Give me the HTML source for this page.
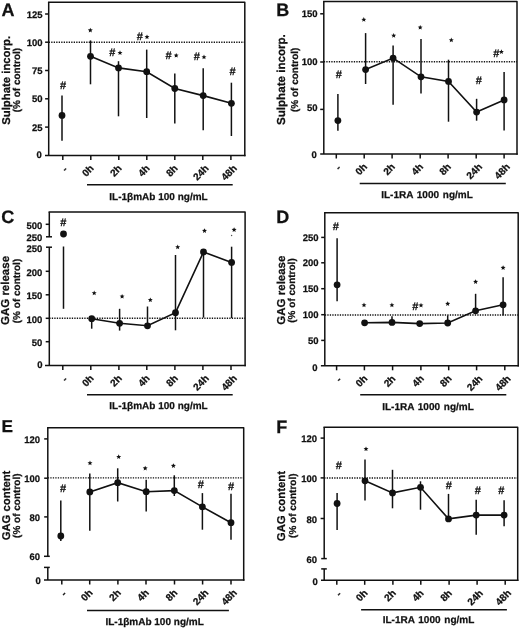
<!DOCTYPE html>
<html><head><meta charset="utf-8"><style>
html,body{margin:0;padding:0;background:#fff;}
svg{display:block;will-change:transform;}
text{font-family:"Liberation Sans",sans-serif;fill:#111;text-rendering:geometricPrecision;}
</style></head><body>
<svg width="520" height="629" viewBox="0 0 520 629" stroke="#111" fill="#111">
<g stroke="none">
</g>
<g fill="none" stroke="#111">
</g>
<path d="M48.70,2.20 L244.80,2.20 L244.80,155.40" fill="none" stroke-width="1.5" stroke-linejoin="round" stroke-linecap="square"/>
<line x1="48.70" y1="2.20" x2="48.70" y2="155.40" stroke-width="1.5" />
<line x1="45.00" y1="155.40" x2="245.55" y2="155.40" stroke-width="1.5" />
<line x1="45.10" y1="14.00" x2="48.70" y2="14.00" stroke-width="1.5" />
<line x1="45.10" y1="42.20" x2="48.70" y2="42.20" stroke-width="1.5" />
<line x1="45.10" y1="70.50" x2="48.70" y2="70.50" stroke-width="1.5" />
<line x1="45.10" y1="98.80" x2="48.70" y2="98.80" stroke-width="1.5" />
<line x1="45.10" y1="127.10" x2="48.70" y2="127.10" stroke-width="1.5" />
<text stroke="#111" stroke-width="0.25" x="42.60" y="17.50" font-size="9.5" text-anchor="end" font-weight="bold" >125</text>
<text stroke="#111" stroke-width="0.25" x="42.60" y="45.70" font-size="9.5" text-anchor="end" font-weight="bold" >100</text>
<text stroke="#111" stroke-width="0.25" x="42.60" y="74.00" font-size="9.5" text-anchor="end" font-weight="bold" >75</text>
<text stroke="#111" stroke-width="0.25" x="42.60" y="102.30" font-size="9.5" text-anchor="end" font-weight="bold" >50</text>
<text stroke="#111" stroke-width="0.25" x="42.60" y="130.60" font-size="9.5" text-anchor="end" font-weight="bold" >25</text>
<text stroke="#111" stroke-width="0.25" x="41.80" y="158.20" font-size="9.5" text-anchor="end" font-weight="bold" >0</text>
<line x1="48.70" y1="42.20" x2="244.80" y2="42.20" stroke-width="1.4" stroke-dasharray="1.3 1.2"/>
<line x1="62.80" y1="155.40" x2="62.80" y2="159.90" stroke-width="1.5" />
<text stroke="#111" stroke-width="0.25" x="68.20" y="170.10" font-size="10" text-anchor="end" font-weight="bold" transform="rotate(-45 68.20 170.10)">-</text>
<line x1="90.80" y1="155.40" x2="90.80" y2="159.90" stroke-width="1.5" />
<text stroke="#111" stroke-width="0.25" x="94.40" y="168.90" font-size="10" text-anchor="end" font-weight="bold" transform="rotate(-45 94.40 168.90)">0h</text>
<line x1="118.80" y1="155.40" x2="118.80" y2="159.90" stroke-width="1.5" />
<text stroke="#111" stroke-width="0.25" x="122.40" y="168.90" font-size="10" text-anchor="end" font-weight="bold" transform="rotate(-45 122.40 168.90)">2h</text>
<line x1="146.80" y1="155.40" x2="146.80" y2="159.90" stroke-width="1.5" />
<text stroke="#111" stroke-width="0.25" x="150.40" y="168.90" font-size="10" text-anchor="end" font-weight="bold" transform="rotate(-45 150.40 168.90)">4h</text>
<line x1="174.80" y1="155.40" x2="174.80" y2="159.90" stroke-width="1.5" />
<text stroke="#111" stroke-width="0.25" x="178.40" y="168.90" font-size="10" text-anchor="end" font-weight="bold" transform="rotate(-45 178.40 168.90)">8h</text>
<line x1="202.80" y1="155.40" x2="202.80" y2="159.90" stroke-width="1.5" />
<text stroke="#111" stroke-width="0.25" x="209.40" y="168.90" font-size="10" text-anchor="end" font-weight="bold" transform="rotate(-45 209.40 168.90)">24h</text>
<line x1="230.90" y1="155.40" x2="230.90" y2="159.90" stroke-width="1.5" />
<text stroke="#111" stroke-width="0.25" x="237.50" y="168.90" font-size="10" text-anchor="end" font-weight="bold" transform="rotate(-45 237.50 168.90)">48h</text>
<line x1="62.00" y1="95.60" x2="62.00" y2="140.80" stroke-width="1.5" />
<line x1="90.50" y1="40.40" x2="90.50" y2="84.30" stroke-width="1.5" />
<line x1="118.50" y1="61.20" x2="118.50" y2="116.30" stroke-width="1.5" />
<line x1="146.70" y1="49.60" x2="146.70" y2="118.00" stroke-width="1.5" />
<line x1="174.80" y1="73.50" x2="174.80" y2="123.50" stroke-width="1.5" />
<line x1="203.20" y1="68.30" x2="203.20" y2="130.20" stroke-width="1.5" />
<line x1="231.40" y1="82.70" x2="231.40" y2="136.00" stroke-width="1.5" />
<path d="M90.50,56.30 L118.50,67.90 L146.70,71.70 L174.80,88.50 L203.20,95.60 L231.40,103.30" fill="none" stroke-width="1.6"/>
<circle cx="62.00" cy="115.40" r="3.4" fill="#111" stroke="none"/>
<circle cx="90.50" cy="56.30" r="3.4" fill="#111" stroke="none"/>
<circle cx="118.50" cy="67.90" r="3.4" fill="#111" stroke="none"/>
<circle cx="146.70" cy="71.70" r="3.4" fill="#111" stroke="none"/>
<circle cx="174.80" cy="88.50" r="3.4" fill="#111" stroke="none"/>
<circle cx="203.20" cy="95.60" r="3.4" fill="#111" stroke="none"/>
<circle cx="231.40" cy="103.30" r="3.4" fill="#111" stroke="none"/>
<text stroke="#111" stroke-width="0.25" x="63.00" y="89.23" font-size="11" text-anchor="middle" font-weight="bold">#</text>
<polygon points="90.30,27.70 90.99,29.35 92.77,29.50 91.41,30.66 91.83,32.40 90.30,31.47 88.77,32.40 89.19,30.66 87.83,29.50 89.61,29.35" fill="#111" stroke="none"/>
<text stroke="#111" stroke-width="0.25" x="112.40" y="56.03" font-size="11" text-anchor="middle" font-weight="bold">#</text>
<polygon points="120.00,50.30 120.69,51.95 122.47,52.10 121.11,53.26 121.53,55.00 120.00,54.07 118.47,55.00 118.89,53.26 117.53,52.10 119.31,51.95" fill="#111" stroke="none"/>
<text stroke="#111" stroke-width="0.25" x="139.90" y="40.13" font-size="11" text-anchor="middle" font-weight="bold">#</text>
<polygon points="147.00,34.40 147.69,36.05 149.47,36.20 148.11,37.36 148.53,39.10 147.00,38.17 145.47,39.10 145.89,37.36 144.53,36.20 146.31,36.05" fill="#111" stroke="none"/>
<text stroke="#111" stroke-width="0.25" x="168.50" y="58.63" font-size="11" text-anchor="middle" font-weight="bold">#</text>
<polygon points="176.20,52.90 176.89,54.55 178.67,54.70 177.31,55.86 177.73,57.60 176.20,56.67 174.67,57.60 175.09,55.86 173.73,54.70 175.51,54.55" fill="#111" stroke="none"/>
<text stroke="#111" stroke-width="0.25" x="196.90" y="60.33" font-size="11" text-anchor="middle" font-weight="bold">#</text>
<polygon points="204.00,54.60 204.69,56.25 206.47,56.40 205.11,57.56 205.53,59.30 204.00,58.37 202.47,59.30 202.89,57.56 201.53,56.40 203.31,56.25" fill="#111" stroke="none"/>
<text stroke="#111" stroke-width="0.25" x="232.50" y="74.83" font-size="11" text-anchor="middle" font-weight="bold">#</text>
<line x1="87.00" y1="184.80" x2="232.70" y2="184.80" stroke-width="1.5" />
<text stroke="#111" stroke-width="0.25" x="158.50" y="199.50" font-size="10" text-anchor="middle" font-weight="bold" >IL-1βmAb 100 ng/mL</text>
<text stroke="#111" stroke-width="0.25" x="9.60" y="80.40" font-size="11.35" text-anchor="middle" font-weight="bold" transform="rotate(-90 9.60 80.40)">Sulphate incorp.</text>
<text stroke="#111" stroke-width="0.25" x="20.00" y="80.10" font-size="10" text-anchor="middle" font-weight="bold" transform="rotate(-90 20.00 80.10)">(% of control)</text>
<text stroke="#111" stroke-width="0.25" x="1.50" y="15.60" font-size="18" text-anchor="start" font-weight="bold" >A</text>
<path d="M323.80,1.50 L517.00,1.50 L517.00,154.00" fill="none" stroke-width="1.5" stroke-linejoin="round" stroke-linecap="square"/>
<line x1="323.80" y1="1.50" x2="323.80" y2="154.00" stroke-width="1.5" />
<line x1="320.20" y1="154.00" x2="517.75" y2="154.00" stroke-width="1.5" />
<line x1="320.20" y1="13.80" x2="323.80" y2="13.80" stroke-width="1.5" />
<line x1="320.20" y1="62.00" x2="323.80" y2="62.00" stroke-width="1.5" />
<line x1="320.20" y1="109.40" x2="323.80" y2="109.40" stroke-width="1.5" />
<text stroke="#111" stroke-width="0.25" x="317.60" y="16.90" font-size="9.5" text-anchor="end" font-weight="bold" >150</text>
<text stroke="#111" stroke-width="0.25" x="317.60" y="65.10" font-size="9.5" text-anchor="end" font-weight="bold" >100</text>
<text stroke="#111" stroke-width="0.25" x="317.60" y="110.60" font-size="9.5" text-anchor="end" font-weight="bold" >50</text>
<text stroke="#111" stroke-width="0.25" x="316.80" y="157.70" font-size="9.5" text-anchor="end" font-weight="bold" >0</text>
<line x1="323.80" y1="61.80" x2="517.00" y2="61.80" stroke-width="1.4" stroke-dasharray="1.3 1.2"/>
<line x1="336.30" y1="154.00" x2="336.30" y2="158.50" stroke-width="1.5" />
<text stroke="#111" stroke-width="0.25" x="341.70" y="168.70" font-size="10" text-anchor="end" font-weight="bold" transform="rotate(-45 341.70 168.70)">-</text>
<line x1="364.20" y1="154.00" x2="364.20" y2="158.50" stroke-width="1.5" />
<text stroke="#111" stroke-width="0.25" x="367.80" y="167.50" font-size="10" text-anchor="end" font-weight="bold" transform="rotate(-45 367.80 167.50)">0h</text>
<line x1="392.10" y1="154.00" x2="392.10" y2="158.50" stroke-width="1.5" />
<text stroke="#111" stroke-width="0.25" x="395.70" y="167.50" font-size="10" text-anchor="end" font-weight="bold" transform="rotate(-45 395.70 167.50)">2h</text>
<line x1="420.20" y1="154.00" x2="420.20" y2="158.50" stroke-width="1.5" />
<text stroke="#111" stroke-width="0.25" x="423.80" y="167.50" font-size="10" text-anchor="end" font-weight="bold" transform="rotate(-45 423.80 167.50)">4h</text>
<line x1="448.10" y1="154.00" x2="448.10" y2="158.50" stroke-width="1.5" />
<text stroke="#111" stroke-width="0.25" x="451.70" y="167.50" font-size="10" text-anchor="end" font-weight="bold" transform="rotate(-45 451.70 167.50)">8h</text>
<line x1="476.20" y1="154.00" x2="476.20" y2="158.50" stroke-width="1.5" />
<text stroke="#111" stroke-width="0.25" x="482.80" y="167.50" font-size="10" text-anchor="end" font-weight="bold" transform="rotate(-45 482.80 167.50)">24h</text>
<line x1="504.10" y1="154.00" x2="504.10" y2="158.50" stroke-width="1.5" />
<text stroke="#111" stroke-width="0.25" x="510.70" y="167.50" font-size="10" text-anchor="end" font-weight="bold" transform="rotate(-45 510.70 167.50)">48h</text>
<line x1="337.90" y1="94.00" x2="337.90" y2="130.70" stroke-width="1.5" />
<line x1="365.60" y1="33.10" x2="365.60" y2="84.00" stroke-width="1.5" />
<line x1="393.10" y1="45.40" x2="393.10" y2="104.80" stroke-width="1.5" />
<line x1="421.00" y1="39.10" x2="421.00" y2="93.50" stroke-width="1.5" />
<line x1="448.50" y1="59.70" x2="448.50" y2="121.70" stroke-width="1.5" />
<line x1="476.60" y1="98.80" x2="476.60" y2="120.70" stroke-width="1.5" />
<line x1="504.10" y1="71.90" x2="504.10" y2="130.60" stroke-width="1.5" />
<path d="M365.60,69.60 L393.10,58.10 L421.00,76.80 L448.50,81.40 L476.60,112.10 L504.10,99.90" fill="none" stroke-width="1.6"/>
<circle cx="337.90" cy="120.60" r="3.4" fill="#111" stroke="none"/>
<circle cx="365.60" cy="69.60" r="3.4" fill="#111" stroke="none"/>
<circle cx="393.10" cy="58.10" r="3.4" fill="#111" stroke="none"/>
<circle cx="421.00" cy="76.80" r="3.4" fill="#111" stroke="none"/>
<circle cx="448.50" cy="81.40" r="3.4" fill="#111" stroke="none"/>
<circle cx="476.60" cy="112.10" r="3.4" fill="#111" stroke="none"/>
<circle cx="504.10" cy="99.90" r="3.4" fill="#111" stroke="none"/>
<text stroke="#111" stroke-width="0.25" x="338.70" y="78.13" font-size="11" text-anchor="middle" font-weight="bold">#</text>
<polygon points="363.80,17.10 364.49,18.75 366.27,18.90 364.91,20.06 365.33,21.80 363.80,20.87 362.27,21.80 362.69,20.06 361.33,18.90 363.11,18.75" fill="#111" stroke="none"/>
<polygon points="393.70,33.00 394.39,34.65 396.17,34.80 394.81,35.96 395.23,37.70 393.70,36.77 392.17,37.70 392.59,35.96 391.23,34.80 393.01,34.65" fill="#111" stroke="none"/>
<polygon points="420.20,24.90 420.89,26.55 422.67,26.70 421.31,27.86 421.73,29.60 420.20,28.67 418.67,29.60 419.09,27.86 417.73,26.70 419.51,26.55" fill="#111" stroke="none"/>
<polygon points="451.30,37.60 451.99,39.25 453.77,39.40 452.41,40.56 452.83,42.30 451.30,41.37 449.77,42.30 450.19,40.56 448.83,39.40 450.61,39.25" fill="#111" stroke="none"/>
<text stroke="#111" stroke-width="0.25" x="478.80" y="84.03" font-size="11" text-anchor="middle" font-weight="bold">#</text>
<text stroke="#111" stroke-width="0.25" x="496.30" y="56.53" font-size="11" text-anchor="middle" font-weight="bold">#</text>
<polygon points="501.40,49.30 502.09,50.95 503.87,51.10 502.51,52.26 502.93,54.00 501.40,53.07 499.87,54.00 500.29,52.26 498.93,51.10 500.71,50.95" fill="#111" stroke="none"/>
<line x1="359.70" y1="183.50" x2="505.80" y2="183.50" stroke-width="1.5" />
<text stroke="#111" stroke-width="0.25" x="427.00" y="197.70" font-size="10" text-anchor="middle" font-weight="bold" word-spacing="1">IL-1RA 1000 ng/mL</text>
<text stroke="#111" stroke-width="0.25" x="284.90" y="79.60" font-size="11.6" text-anchor="middle" font-weight="bold" transform="rotate(-90 284.90 79.60)">Sulphate incorp.</text>
<text stroke="#111" stroke-width="0.25" x="298.00" y="79.80" font-size="10" text-anchor="middle" font-weight="bold" transform="rotate(-90 298.00 79.80)">(% of control)</text>
<text stroke="#111" stroke-width="0.25" x="276.20" y="16.00" font-size="18" text-anchor="start" font-weight="bold" >B</text>
<path d="M49.30,212.10 L245.10,212.10 L245.10,365.50" fill="none" stroke-width="1.5" stroke-linejoin="round" stroke-linecap="square"/>
<line x1="49.30" y1="212.10" x2="49.30" y2="236.80" stroke-width="1.5" />
<line x1="46.00" y1="236.80" x2="52.00" y2="236.80" stroke-width="1.5" />
<line x1="49.30" y1="247.20" x2="49.30" y2="365.50" stroke-width="1.5" />
<line x1="46.00" y1="247.20" x2="52.00" y2="247.20" stroke-width="1.5" />
<line x1="45.00" y1="365.50" x2="245.85" y2="365.50" stroke-width="1.5" />
<line x1="45.70" y1="224.30" x2="49.30" y2="224.30" stroke-width="1.5" />
<line x1="45.70" y1="271.30" x2="49.30" y2="271.30" stroke-width="1.5" />
<line x1="45.70" y1="294.80" x2="49.30" y2="294.80" stroke-width="1.5" />
<line x1="45.70" y1="318.30" x2="49.30" y2="318.30" stroke-width="1.5" />
<line x1="45.70" y1="341.70" x2="49.30" y2="341.70" stroke-width="1.5" />
<text stroke="#111" stroke-width="0.25" x="42.30" y="228.50" font-size="9.5" text-anchor="end" font-weight="bold" >500</text>
<text stroke="#111" stroke-width="0.25" x="42.30" y="241.40" font-size="9.5" text-anchor="end" font-weight="bold" >250</text>
<text stroke="#111" stroke-width="0.25" x="42.30" y="252.00" font-size="9.5" text-anchor="end" font-weight="bold" >250</text>
<text stroke="#111" stroke-width="0.25" x="42.30" y="275.50" font-size="9.5" text-anchor="end" font-weight="bold" >200</text>
<text stroke="#111" stroke-width="0.25" x="42.30" y="299.00" font-size="9.5" text-anchor="end" font-weight="bold" >150</text>
<text stroke="#111" stroke-width="0.25" x="42.30" y="322.50" font-size="9.5" text-anchor="end" font-weight="bold" >100</text>
<text stroke="#111" stroke-width="0.25" x="42.30" y="345.90" font-size="9.5" text-anchor="end" font-weight="bold" >50</text>
<text stroke="#111" stroke-width="0.25" x="42.60" y="368.30" font-size="9.5" text-anchor="end" font-weight="bold" >0</text>
<line x1="49.30" y1="318.30" x2="245.10" y2="318.30" stroke-width="1.4" stroke-dasharray="1.3 1.2"/>
<line x1="62.80" y1="365.50" x2="62.80" y2="370.00" stroke-width="1.5" />
<text stroke="#111" stroke-width="0.25" x="68.20" y="380.20" font-size="10" text-anchor="end" font-weight="bold" transform="rotate(-45 68.20 380.20)">-</text>
<line x1="90.80" y1="365.50" x2="90.80" y2="370.00" stroke-width="1.5" />
<text stroke="#111" stroke-width="0.25" x="94.40" y="379.00" font-size="10" text-anchor="end" font-weight="bold" transform="rotate(-45 94.40 379.00)">0h</text>
<line x1="118.90" y1="365.50" x2="118.90" y2="370.00" stroke-width="1.5" />
<text stroke="#111" stroke-width="0.25" x="122.50" y="379.00" font-size="10" text-anchor="end" font-weight="bold" transform="rotate(-45 122.50 379.00)">2h</text>
<line x1="146.80" y1="365.50" x2="146.80" y2="370.00" stroke-width="1.5" />
<text stroke="#111" stroke-width="0.25" x="150.40" y="379.00" font-size="10" text-anchor="end" font-weight="bold" transform="rotate(-45 150.40 379.00)">4h</text>
<line x1="174.90" y1="365.50" x2="174.90" y2="370.00" stroke-width="1.5" />
<text stroke="#111" stroke-width="0.25" x="178.50" y="379.00" font-size="10" text-anchor="end" font-weight="bold" transform="rotate(-45 178.50 379.00)">8h</text>
<line x1="202.90" y1="365.50" x2="202.90" y2="370.00" stroke-width="1.5" />
<text stroke="#111" stroke-width="0.25" x="209.50" y="379.00" font-size="10" text-anchor="end" font-weight="bold" transform="rotate(-45 209.50 379.00)">24h</text>
<line x1="231.00" y1="365.50" x2="231.00" y2="370.00" stroke-width="1.5" />
<text stroke="#111" stroke-width="0.25" x="237.60" y="379.00" font-size="10" text-anchor="end" font-weight="bold" transform="rotate(-45 237.60 379.00)">48h</text>
<line x1="91.70" y1="316.00" x2="91.70" y2="328.70" stroke-width="1.5" />
<line x1="119.60" y1="308.80" x2="119.60" y2="330.60" stroke-width="1.5" />
<line x1="147.50" y1="306.50" x2="147.50" y2="326.00" stroke-width="1.5" />
<line x1="175.50" y1="255.00" x2="175.50" y2="330.30" stroke-width="1.5" />
<line x1="203.50" y1="252.00" x2="203.50" y2="317.60" stroke-width="1.5" />
<line x1="231.60" y1="246.70" x2="231.60" y2="318.00" stroke-width="1.5" />
<path d="M91.70,318.70 L119.60,323.30 L147.50,325.80 L175.50,312.70 L203.50,252.00 L231.60,262.40" fill="none" stroke-width="1.6"/>
<circle cx="63.50" cy="234.00" r="3.4" fill="#111" stroke="none"/>
<circle cx="91.70" cy="318.70" r="3.4" fill="#111" stroke="none"/>
<circle cx="119.60" cy="323.30" r="3.4" fill="#111" stroke="none"/>
<circle cx="147.50" cy="325.80" r="3.4" fill="#111" stroke="none"/>
<circle cx="175.50" cy="312.70" r="3.4" fill="#111" stroke="none"/>
<circle cx="203.50" cy="252.00" r="3.4" fill="#111" stroke="none"/>
<circle cx="231.60" cy="262.40" r="3.4" fill="#111" stroke="none"/>
<text stroke="#111" stroke-width="0.25" x="63.30" y="225.63" font-size="11" text-anchor="middle" font-weight="bold">#</text>
<polygon points="94.20,290.50 94.89,292.15 96.67,292.30 95.31,293.46 95.73,295.20 94.20,294.27 92.67,295.20 93.09,293.46 91.73,292.30 93.51,292.15" fill="#111" stroke="none"/>
<polygon points="122.10,293.90 122.79,295.55 124.57,295.70 123.21,296.86 123.63,298.60 122.10,297.67 120.57,298.60 120.99,296.86 119.63,295.70 121.41,295.55" fill="#111" stroke="none"/>
<polygon points="150.30,297.40 150.99,299.05 152.77,299.20 151.41,300.36 151.83,302.10 150.30,301.17 148.77,302.10 149.19,300.36 147.83,299.20 149.61,299.05" fill="#111" stroke="none"/>
<polygon points="177.70,244.50 178.39,246.15 180.17,246.30 178.81,247.46 179.23,249.20 177.70,248.27 176.17,249.20 176.59,247.46 175.23,246.30 177.01,246.15" fill="#111" stroke="none"/>
<polygon points="204.50,228.20 205.19,229.85 206.97,230.00 205.61,231.16 206.03,232.90 204.50,231.97 202.97,232.90 203.39,231.16 202.03,230.00 203.81,229.85" fill="#111" stroke="none"/>
<polygon points="234.10,227.20 234.79,228.85 236.57,229.00 235.21,230.16 235.63,231.90 234.10,230.97 232.57,231.90 232.99,230.16 231.63,229.00 233.41,228.85" fill="#111" stroke="none"/>
<line x1="87.00" y1="394.80" x2="232.70" y2="394.80" stroke-width="1.5" />
<text stroke="#111" stroke-width="0.25" x="158.50" y="409.30" font-size="10" text-anchor="middle" font-weight="bold" >IL-1βmAb 100 ng/mL</text>
<text stroke="#111" stroke-width="0.25" x="9.20" y="290.50" font-size="11.5" text-anchor="middle" font-weight="bold" transform="rotate(-90 9.20 290.50)">GAG release</text>
<text stroke="#111" stroke-width="0.25" x="20.20" y="291.00" font-size="10" text-anchor="middle" font-weight="bold" transform="rotate(-90 20.20 291.00)">(% of control)</text>
<text stroke="#111" stroke-width="0.25" x="1.20" y="222.80" font-size="18" text-anchor="start" font-weight="bold" >C</text>
<line x1="63.50" y1="246.50" x2="63.50" y2="308.80" stroke-width="1.5" />
<circle cx="231.6" cy="235.5" r="0.7" fill="#555" stroke="none"/>
<path d="M324.80,212.70 L518.20,212.70 L518.20,365.80" fill="none" stroke-width="1.5" stroke-linejoin="round" stroke-linecap="square"/>
<line x1="324.80" y1="212.70" x2="324.80" y2="365.80" stroke-width="1.5" />
<line x1="320.90" y1="365.80" x2="518.95" y2="365.80" stroke-width="1.5" />
<line x1="321.20" y1="237.40" x2="324.80" y2="237.40" stroke-width="1.5" />
<line x1="321.20" y1="262.80" x2="324.80" y2="262.80" stroke-width="1.5" />
<line x1="321.20" y1="288.70" x2="324.80" y2="288.70" stroke-width="1.5" />
<line x1="321.20" y1="314.70" x2="324.80" y2="314.70" stroke-width="1.5" />
<line x1="321.20" y1="340.40" x2="324.80" y2="340.40" stroke-width="1.5" />
<text stroke="#111" stroke-width="0.25" x="318.60" y="240.70" font-size="9.5" text-anchor="end" font-weight="bold" >250</text>
<text stroke="#111" stroke-width="0.25" x="318.60" y="266.10" font-size="9.5" text-anchor="end" font-weight="bold" >200</text>
<text stroke="#111" stroke-width="0.25" x="318.60" y="292.00" font-size="9.5" text-anchor="end" font-weight="bold" >150</text>
<text stroke="#111" stroke-width="0.25" x="318.60" y="318.00" font-size="9.5" text-anchor="end" font-weight="bold" >100</text>
<text stroke="#111" stroke-width="0.25" x="318.60" y="343.70" font-size="9.5" text-anchor="end" font-weight="bold" >50</text>
<text stroke="#111" stroke-width="0.25" x="317.50" y="370.90" font-size="9.5" text-anchor="end" font-weight="bold" >0</text>
<line x1="324.80" y1="315.00" x2="518.20" y2="315.00" stroke-width="1.4" stroke-dasharray="1.3 1.2"/>
<line x1="336.60" y1="365.80" x2="336.60" y2="370.30" stroke-width="1.5" />
<text stroke="#111" stroke-width="0.25" x="342.00" y="380.50" font-size="10" text-anchor="end" font-weight="bold" transform="rotate(-45 342.00 380.50)">-</text>
<line x1="364.40" y1="365.80" x2="364.40" y2="370.30" stroke-width="1.5" />
<text stroke="#111" stroke-width="0.25" x="368.00" y="379.30" font-size="10" text-anchor="end" font-weight="bold" transform="rotate(-45 368.00 379.30)">0h</text>
<line x1="392.60" y1="365.80" x2="392.60" y2="370.30" stroke-width="1.5" />
<text stroke="#111" stroke-width="0.25" x="396.20" y="379.30" font-size="10" text-anchor="end" font-weight="bold" transform="rotate(-45 396.20 379.30)">2h</text>
<line x1="420.90" y1="365.80" x2="420.90" y2="370.30" stroke-width="1.5" />
<text stroke="#111" stroke-width="0.25" x="424.50" y="379.30" font-size="10" text-anchor="end" font-weight="bold" transform="rotate(-45 424.50 379.30)">4h</text>
<line x1="448.70" y1="365.80" x2="448.70" y2="370.30" stroke-width="1.5" />
<text stroke="#111" stroke-width="0.25" x="452.30" y="379.30" font-size="10" text-anchor="end" font-weight="bold" transform="rotate(-45 452.30 379.30)">8h</text>
<line x1="476.60" y1="365.80" x2="476.60" y2="370.30" stroke-width="1.5" />
<text stroke="#111" stroke-width="0.25" x="483.20" y="379.30" font-size="10" text-anchor="end" font-weight="bold" transform="rotate(-45 483.20 379.30)">24h</text>
<line x1="504.80" y1="365.80" x2="504.80" y2="370.30" stroke-width="1.5" />
<text stroke="#111" stroke-width="0.25" x="511.40" y="379.30" font-size="10" text-anchor="end" font-weight="bold" transform="rotate(-45 511.40 379.30)">48h</text>
<line x1="337.10" y1="238.20" x2="337.10" y2="301.20" stroke-width="1.5" />
<line x1="392.00" y1="316.20" x2="392.00" y2="322.00" stroke-width="1.5" />
<line x1="447.70" y1="315.40" x2="447.70" y2="323.00" stroke-width="1.5" />
<line x1="475.60" y1="293.80" x2="475.60" y2="311.00" stroke-width="1.5" />
<line x1="503.10" y1="277.30" x2="503.10" y2="315.40" stroke-width="1.5" />
<path d="M364.60,322.80 L392.00,322.40 L419.70,323.60 L447.70,323.00 L475.60,310.80 L503.10,304.80" fill="none" stroke-width="1.6"/>
<circle cx="337.10" cy="284.80" r="3.4" fill="#111" stroke="none"/>
<circle cx="364.60" cy="322.80" r="3.4" fill="#111" stroke="none"/>
<circle cx="392.00" cy="322.40" r="3.4" fill="#111" stroke="none"/>
<circle cx="419.70" cy="323.60" r="3.4" fill="#111" stroke="none"/>
<circle cx="447.70" cy="323.00" r="3.4" fill="#111" stroke="none"/>
<circle cx="475.60" cy="310.80" r="3.4" fill="#111" stroke="none"/>
<circle cx="503.10" cy="304.80" r="3.4" fill="#111" stroke="none"/>
<text stroke="#111" stroke-width="0.25" x="335.90" y="230.23" font-size="11" text-anchor="middle" font-weight="bold">#</text>
<polygon points="364.00,302.60 364.69,304.25 366.47,304.40 365.11,305.56 365.53,307.30 364.00,306.37 362.47,307.30 362.89,305.56 361.53,304.40 363.31,304.25" fill="#111" stroke="none"/>
<polygon points="391.90,302.60 392.59,304.25 394.37,304.40 393.01,305.56 393.43,307.30 391.90,306.37 390.37,307.30 390.79,305.56 389.43,304.40 391.21,304.25" fill="#111" stroke="none"/>
<text stroke="#111" stroke-width="0.25" x="415.20" y="309.83" font-size="11" text-anchor="middle" font-weight="bold">#</text>
<polygon points="421.00,302.80 421.69,304.45 423.47,304.60 422.11,305.76 422.53,307.50 421.00,306.57 419.47,307.50 419.89,305.76 418.53,304.60 420.31,304.45" fill="#111" stroke="none"/>
<polygon points="447.70,301.20 448.39,302.85 450.17,303.00 448.81,304.16 449.23,305.90 447.70,304.97 446.17,305.90 446.59,304.16 445.23,303.00 447.01,302.85" fill="#111" stroke="none"/>
<polygon points="475.60,279.20 476.29,280.85 478.07,281.00 476.71,282.16 477.13,283.90 475.60,282.97 474.07,283.90 474.49,282.16 473.13,281.00 474.91,280.85" fill="#111" stroke="none"/>
<polygon points="503.10,265.20 503.79,266.85 505.57,267.00 504.21,268.16 504.63,269.90 503.10,268.97 501.57,269.90 501.99,268.16 500.63,267.00 502.41,266.85" fill="#111" stroke="none"/>
<line x1="360.20" y1="394.80" x2="506.30" y2="394.80" stroke-width="1.5" />
<text stroke="#111" stroke-width="0.25" x="428.00" y="410.00" font-size="10" text-anchor="middle" font-weight="bold" word-spacing="1">IL-1RA 1000 ng/mL</text>
<text stroke="#111" stroke-width="0.25" x="285.00" y="290.10" font-size="11.5" text-anchor="middle" font-weight="bold" transform="rotate(-90 285.00 290.10)">GAG release</text>
<text stroke="#111" stroke-width="0.25" x="294.80" y="290.50" font-size="10" text-anchor="middle" font-weight="bold" transform="rotate(-90 294.80 290.50)">(% of control)</text>
<text stroke="#111" stroke-width="0.25" x="276.20" y="223.00" font-size="18" text-anchor="start" font-weight="bold" >D</text>
<path d="M47.80,427.80 L243.70,427.80 L243.70,580.00" fill="none" stroke-width="1.5" stroke-linejoin="round" stroke-linecap="square"/>
<line x1="47.80" y1="427.80" x2="47.80" y2="556.30" stroke-width="1.5" />
<line x1="44.00" y1="556.30" x2="49.80" y2="556.30" stroke-width="1.5" />
<line x1="47.80" y1="567.40" x2="47.80" y2="580.00" stroke-width="1.5" />
<line x1="44.00" y1="567.40" x2="49.80" y2="567.40" stroke-width="1.5" />
<line x1="44.00" y1="580.00" x2="244.45" y2="580.00" stroke-width="1.5" />
<line x1="44.20" y1="438.90" x2="47.80" y2="438.90" stroke-width="1.5" />
<line x1="44.20" y1="478.20" x2="47.80" y2="478.20" stroke-width="1.5" />
<line x1="44.20" y1="516.90" x2="47.80" y2="516.90" stroke-width="1.5" />
<text stroke="#111" stroke-width="0.25" x="40.00" y="442.90" font-size="9.5" text-anchor="end" font-weight="bold" >120</text>
<text stroke="#111" stroke-width="0.25" x="40.00" y="482.20" font-size="9.5" text-anchor="end" font-weight="bold" >100</text>
<text stroke="#111" stroke-width="0.25" x="40.00" y="520.90" font-size="9.5" text-anchor="end" font-weight="bold" >80</text>
<text stroke="#111" stroke-width="0.25" x="40.00" y="560.30" font-size="9.5" text-anchor="end" font-weight="bold" >60</text>
<text stroke="#111" stroke-width="0.25" x="40.90" y="583.50" font-size="9.5" text-anchor="end" font-weight="bold" >0</text>
<line x1="47.80" y1="477.90" x2="243.70" y2="477.90" stroke-width="1.4" stroke-dasharray="1.3 1.2"/>
<line x1="61.80" y1="580.00" x2="61.80" y2="584.50" stroke-width="1.5" />
<text stroke="#111" stroke-width="0.25" x="67.20" y="594.70" font-size="10" text-anchor="end" font-weight="bold" transform="rotate(-45 67.20 594.70)">-</text>
<line x1="89.70" y1="580.00" x2="89.70" y2="584.50" stroke-width="1.5" />
<text stroke="#111" stroke-width="0.25" x="93.30" y="593.50" font-size="10" text-anchor="end" font-weight="bold" transform="rotate(-45 93.30 593.50)">0h</text>
<line x1="117.90" y1="580.00" x2="117.90" y2="584.50" stroke-width="1.5" />
<text stroke="#111" stroke-width="0.25" x="121.50" y="593.50" font-size="10" text-anchor="end" font-weight="bold" transform="rotate(-45 121.50 593.50)">2h</text>
<line x1="146.00" y1="580.00" x2="146.00" y2="584.50" stroke-width="1.5" />
<text stroke="#111" stroke-width="0.25" x="149.60" y="593.50" font-size="10" text-anchor="end" font-weight="bold" transform="rotate(-45 149.60 593.50)">4h</text>
<line x1="174.50" y1="580.00" x2="174.50" y2="584.50" stroke-width="1.5" />
<text stroke="#111" stroke-width="0.25" x="178.10" y="593.50" font-size="10" text-anchor="end" font-weight="bold" transform="rotate(-45 178.10 593.50)">8h</text>
<line x1="202.60" y1="580.00" x2="202.60" y2="584.50" stroke-width="1.5" />
<text stroke="#111" stroke-width="0.25" x="209.20" y="593.50" font-size="10" text-anchor="end" font-weight="bold" transform="rotate(-45 209.20 593.50)">24h</text>
<line x1="231.00" y1="580.00" x2="231.00" y2="584.50" stroke-width="1.5" />
<text stroke="#111" stroke-width="0.25" x="237.60" y="593.50" font-size="10" text-anchor="end" font-weight="bold" transform="rotate(-45 237.60 593.50)">48h</text>
<line x1="60.80" y1="500.40" x2="60.80" y2="541.00" stroke-width="1.5" />
<line x1="89.80" y1="473.50" x2="89.80" y2="530.80" stroke-width="1.5" />
<line x1="117.70" y1="468.30" x2="117.70" y2="501.50" stroke-width="1.5" />
<line x1="146.20" y1="479.70" x2="146.20" y2="511.40" stroke-width="1.5" />
<line x1="174.30" y1="475.30" x2="174.30" y2="496.00" stroke-width="1.5" />
<line x1="202.40" y1="493.10" x2="202.40" y2="529.70" stroke-width="1.5" />
<line x1="231.00" y1="493.80" x2="231.00" y2="539.70" stroke-width="1.5" />
<path d="M89.80,491.90 L117.70,482.70 L146.20,491.70 L174.30,490.60 L202.40,506.90 L231.00,522.70" fill="none" stroke-width="1.6"/>
<circle cx="60.80" cy="536.00" r="3.4" fill="#111" stroke="none"/>
<circle cx="89.80" cy="491.90" r="3.4" fill="#111" stroke="none"/>
<circle cx="117.70" cy="482.70" r="3.4" fill="#111" stroke="none"/>
<circle cx="146.20" cy="491.70" r="3.4" fill="#111" stroke="none"/>
<circle cx="174.30" cy="490.60" r="3.4" fill="#111" stroke="none"/>
<circle cx="202.40" cy="506.90" r="3.4" fill="#111" stroke="none"/>
<circle cx="231.00" cy="522.70" r="3.4" fill="#111" stroke="none"/>
<text stroke="#111" stroke-width="0.25" x="63.10" y="491.73" font-size="11" text-anchor="middle" font-weight="bold">#</text>
<polygon points="90.00,460.50 90.69,462.15 92.47,462.30 91.11,463.46 91.53,465.20 90.00,464.27 88.47,465.20 88.89,463.46 87.53,462.30 89.31,462.15" fill="#111" stroke="none"/>
<polygon points="118.70,454.30 119.39,455.95 121.17,456.10 119.81,457.26 120.23,459.00 118.70,458.07 117.17,459.00 117.59,457.26 116.23,456.10 118.01,455.95" fill="#111" stroke="none"/>
<polygon points="145.20,465.70 145.89,467.35 147.67,467.50 146.31,468.66 146.73,470.40 145.20,469.47 143.67,470.40 144.09,468.66 142.73,467.50 144.51,467.35" fill="#111" stroke="none"/>
<polygon points="173.40,463.20 174.09,464.85 175.87,465.00 174.51,466.16 174.93,467.90 173.40,466.97 171.87,467.90 172.29,466.16 170.93,465.00 172.71,464.85" fill="#111" stroke="none"/>
<text stroke="#111" stroke-width="0.25" x="200.90" y="488.33" font-size="11" text-anchor="middle" font-weight="bold">#</text>
<text stroke="#111" stroke-width="0.25" x="231.00" y="489.53" font-size="11" text-anchor="middle" font-weight="bold">#</text>
<line x1="87.00" y1="610.60" x2="228.90" y2="610.60" stroke-width="1.5" />
<text stroke="#111" stroke-width="0.25" x="154.60" y="625.10" font-size="10" text-anchor="middle" font-weight="bold" >IL-1βmAb 100 ng/mL</text>
<text stroke="#111" stroke-width="0.25" x="10.00" y="505.50" font-size="11.3" text-anchor="middle" font-weight="bold" transform="rotate(-90 10.00 505.50)">GAG content</text>
<text stroke="#111" stroke-width="0.25" x="20.00" y="505.70" font-size="10" text-anchor="middle" font-weight="bold" transform="rotate(-90 20.00 505.70)">(% of control)</text>
<text stroke="#111" stroke-width="0.25" x="1.50" y="432.40" font-size="17.2" text-anchor="start" font-weight="bold" >E</text>
<path d="M324.20,427.30 L517.70,427.30 L517.70,580.30" fill="none" stroke-width="1.5" stroke-linejoin="round" stroke-linecap="square"/>
<line x1="324.20" y1="427.30" x2="324.20" y2="558.60" stroke-width="1.5" />
<line x1="321.20" y1="558.60" x2="326.80" y2="558.60" stroke-width="1.5" />
<line x1="324.20" y1="568.90" x2="324.20" y2="580.30" stroke-width="1.5" />
<line x1="321.20" y1="568.90" x2="326.80" y2="568.90" stroke-width="1.5" />
<line x1="321.00" y1="580.30" x2="518.45" y2="580.30" stroke-width="1.5" />
<line x1="320.60" y1="438.10" x2="324.20" y2="438.10" stroke-width="1.5" />
<line x1="320.60" y1="477.90" x2="324.20" y2="477.90" stroke-width="1.5" />
<line x1="320.60" y1="518.50" x2="324.20" y2="518.50" stroke-width="1.5" />
<text stroke="#111" stroke-width="0.25" x="317.00" y="442.10" font-size="9.5" text-anchor="end" font-weight="bold" >120</text>
<text stroke="#111" stroke-width="0.25" x="317.00" y="481.90" font-size="9.5" text-anchor="end" font-weight="bold" >100</text>
<text stroke="#111" stroke-width="0.25" x="317.00" y="522.50" font-size="9.5" text-anchor="end" font-weight="bold" >80</text>
<text stroke="#111" stroke-width="0.25" x="317.00" y="562.60" font-size="9.5" text-anchor="end" font-weight="bold" >60</text>
<text stroke="#111" stroke-width="0.25" x="317.80" y="584.80" font-size="9.5" text-anchor="end" font-weight="bold" >0</text>
<line x1="324.20" y1="478.00" x2="517.70" y2="478.00" stroke-width="1.4" stroke-dasharray="1.3 1.2"/>
<line x1="336.80" y1="580.30" x2="336.80" y2="584.80" stroke-width="1.5" />
<text stroke="#111" stroke-width="0.25" x="342.20" y="595.00" font-size="10" text-anchor="end" font-weight="bold" transform="rotate(-45 342.20 595.00)">-</text>
<line x1="364.70" y1="580.30" x2="364.70" y2="584.80" stroke-width="1.5" />
<text stroke="#111" stroke-width="0.25" x="368.30" y="593.80" font-size="10" text-anchor="end" font-weight="bold" transform="rotate(-45 368.30 593.80)">0h</text>
<line x1="392.90" y1="580.30" x2="392.90" y2="584.80" stroke-width="1.5" />
<text stroke="#111" stroke-width="0.25" x="396.50" y="593.80" font-size="10" text-anchor="end" font-weight="bold" transform="rotate(-45 396.50 593.80)">2h</text>
<line x1="420.80" y1="580.30" x2="420.80" y2="584.80" stroke-width="1.5" />
<text stroke="#111" stroke-width="0.25" x="424.40" y="593.80" font-size="10" text-anchor="end" font-weight="bold" transform="rotate(-45 424.40 593.80)">4h</text>
<line x1="449.10" y1="580.30" x2="449.10" y2="584.80" stroke-width="1.5" />
<text stroke="#111" stroke-width="0.25" x="452.70" y="593.80" font-size="10" text-anchor="end" font-weight="bold" transform="rotate(-45 452.70 593.80)">8h</text>
<line x1="477.10" y1="580.30" x2="477.10" y2="584.80" stroke-width="1.5" />
<text stroke="#111" stroke-width="0.25" x="483.70" y="593.80" font-size="10" text-anchor="end" font-weight="bold" transform="rotate(-45 483.70 593.80)">24h</text>
<line x1="505.20" y1="580.30" x2="505.20" y2="584.80" stroke-width="1.5" />
<text stroke="#111" stroke-width="0.25" x="511.80" y="593.80" font-size="10" text-anchor="end" font-weight="bold" transform="rotate(-45 511.80 593.80)">48h</text>
<line x1="337.10" y1="492.90" x2="337.10" y2="530.00" stroke-width="1.5" />
<line x1="365.00" y1="459.60" x2="365.00" y2="500.60" stroke-width="1.5" />
<line x1="392.50" y1="469.80" x2="392.50" y2="508.30" stroke-width="1.5" />
<line x1="420.50" y1="481.30" x2="420.50" y2="509.70" stroke-width="1.5" />
<line x1="448.50" y1="493.90" x2="448.50" y2="519.00" stroke-width="1.5" />
<line x1="476.20" y1="499.70" x2="476.20" y2="534.80" stroke-width="1.5" />
<line x1="504.10" y1="500.30" x2="504.10" y2="526.30" stroke-width="1.5" />
<path d="M365.00,480.80 L392.50,492.90 L420.50,487.30 L448.50,518.90 L476.20,515.10 L504.10,515.10" fill="none" stroke-width="1.6"/>
<circle cx="337.10" cy="503.50" r="3.4" fill="#111" stroke="none"/>
<circle cx="365.00" cy="480.80" r="3.4" fill="#111" stroke="none"/>
<circle cx="392.50" cy="492.90" r="3.4" fill="#111" stroke="none"/>
<circle cx="420.50" cy="487.30" r="3.4" fill="#111" stroke="none"/>
<circle cx="448.50" cy="518.90" r="3.4" fill="#111" stroke="none"/>
<circle cx="476.20" cy="515.10" r="3.4" fill="#111" stroke="none"/>
<circle cx="504.10" cy="515.10" r="3.4" fill="#111" stroke="none"/>
<text stroke="#111" stroke-width="0.25" x="338.70" y="469.23" font-size="11" text-anchor="middle" font-weight="bold">#</text>
<polygon points="366.00,446.40 366.69,448.05 368.47,448.20 367.11,449.36 367.53,451.10 366.00,450.17 364.47,451.10 364.89,449.36 363.53,448.20 365.31,448.05" fill="#111" stroke="none"/>
<text stroke="#111" stroke-width="0.25" x="448.70" y="489.13" font-size="11" text-anchor="middle" font-weight="bold">#</text>
<text stroke="#111" stroke-width="0.25" x="477.70" y="493.93" font-size="11" text-anchor="middle" font-weight="bold">#</text>
<text stroke="#111" stroke-width="0.25" x="501.40" y="493.93" font-size="11" text-anchor="middle" font-weight="bold">#</text>
<line x1="361.10" y1="609.80" x2="506.90" y2="609.80" stroke-width="1.5" />
<text stroke="#111" stroke-width="0.25" x="428.50" y="622.90" font-size="10" text-anchor="middle" font-weight="bold" word-spacing="1">IL-1RA 1000 ng/mL</text>
<text stroke="#111" stroke-width="0.25" x="285.00" y="506.10" font-size="11.4" text-anchor="middle" font-weight="bold" transform="rotate(-90 285.00 506.10)">GAG content</text>
<text stroke="#111" stroke-width="0.25" x="295.60" y="505.70" font-size="10" text-anchor="middle" font-weight="bold" transform="rotate(-90 295.60 505.70)">(% of control)</text>
<text stroke="#111" stroke-width="0.25" x="276.20" y="433.00" font-size="18" text-anchor="start" font-weight="bold" >F</text>
</svg>
</body></html>
